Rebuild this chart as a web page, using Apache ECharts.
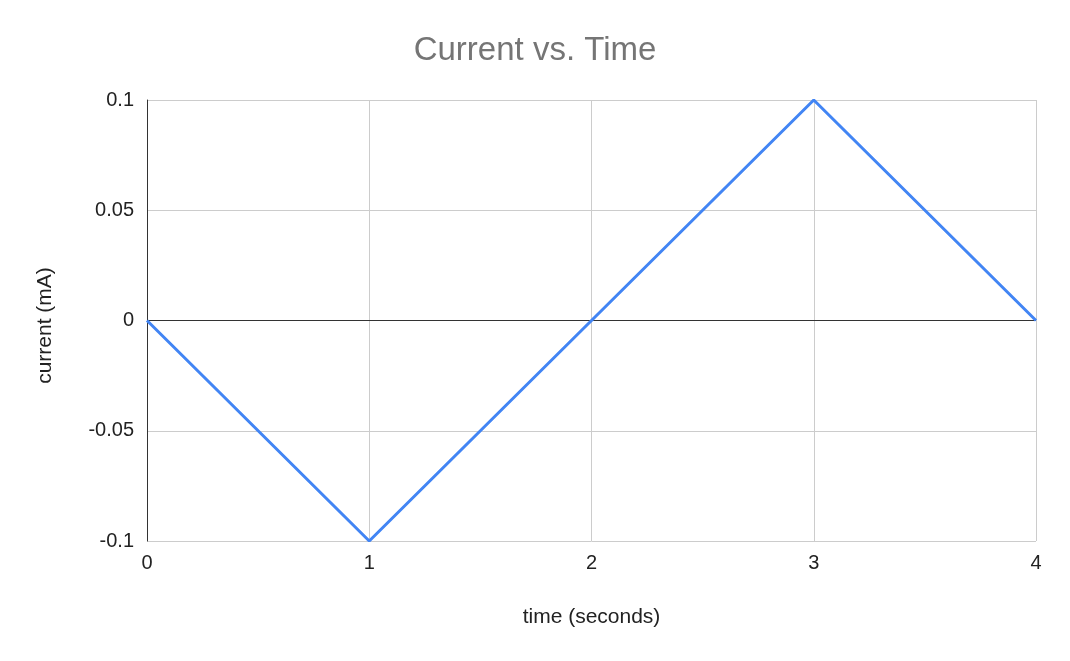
<!DOCTYPE html>
<html><head><meta charset="utf-8">
<script src="https://cdn.jsdelivr.net/npm/echarts@6/dist/echarts.min.js"></script>
<style>html,body{margin:0;padding:0;background:#fff}#c{width:1070px;height:661px}</style>
</head><body><div id="c"></div>
<script>
const timeValues = [0, 1, 2, 3, 4];
const currentValues = [0, -0.1, 0, 0.1, 0];
const yTicks = [-0.1, -0.05, 0, 0.05, 0.1];

const FONT = '"Liberation Sans", Arial, sans-serif';
const chart = echarts.init(document.getElementById('c'));
chart.setOption({
  animation: false,
  backgroundColor: '#fff',
  title: {
    text: 'Current vs. Time', left: 'center', top: 29,
    textStyle: { fontFamily: FONT, fontSize: 33, fontWeight: 'normal', color: '#757575' }
  },
  grid: { left: 147, right: 34, top: 100, bottom: 120 },
  xAxis: {
    type: 'value', min: 0, max: 4, interval: 1,
    name: 'time (seconds)', nameLocation: 'middle', nameGap: 66,
    nameTextStyle: { fontFamily: FONT, fontSize: 21, color: '#222' },
    axisLine: { show: false, onZero: false },
    axisTick: { show: false },
    axisLabel: { fontFamily: FONT, fontSize: 20, color: '#222', margin: 12 },
    splitLine: { show: true, lineStyle: { color: '#cccccc', width: 1 } }
  },
  yAxis: {
    type: 'value', min: yTicks[0], max: yTicks[yTicks.length - 1], interval: 0.05,
    name: 'current (mA)', nameLocation: 'middle', nameGap: 91, nameRotate: 90,
    nameTextStyle: { fontFamily: FONT, fontSize: 21, color: '#222', padding: [0, 10, 0, 0] },
    axisLine: { show: true, lineStyle: { color: '#333', width: 1 } },
    axisTick: { show: false },
    axisLabel: { fontFamily: FONT, fontSize: 20, color: '#222', margin: 13,
      formatter: v => String(Math.round(v * 100) / 100) },
    splitLine: { show: true, lineStyle: { color: '#cccccc', width: 1 } }
  },
  series: [{
    type: 'line',
    data: timeValues.map((t, i) => [t, currentValues[i]]),
    symbol: 'none',
    lineStyle: { color: '#4285F4', width: 3 },
    z: 3,
    markLine: {
      silent: true, symbol: 'none', label: { show: false },
      lineStyle: { color: '#333', width: 1, type: 'solid' },
      data: [{ yAxis: 0 }],
      z: 2
    }
  }]
});
</script></body></html>
